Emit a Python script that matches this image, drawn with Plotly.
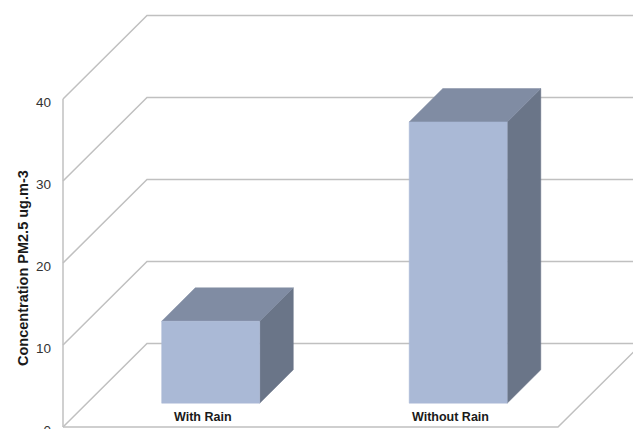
import plotly.graph_objects as go

# ---------------- data ----------------
categories = ["With Rain", "Without Rain"]
values = [10.0, 34.3]
tick_values = [0, 10, 20, 30, 40]
tick_labels = ["0", "10", "20", "30", "40"]
y_title = "Concentration PM2.5 ug.m-3"

# ---------------- style / geometry ----------------
W, H = 633, 429
PX_PER_CAT = 247.5          # horizontal pixels per category on the front plane
PX_PER_VAL = 8.2            # vertical pixels per value unit on the front plane
Y0_PX = 427                 # pixel row of value 0 on the front plane
ML = 60                     # left margin
DEPTH_DX = 84 / PX_PER_CAT  # oblique depth offset (category units)
DEPTH_DY = 83.5 / PX_PER_VAL  # oblique depth offset (value units)
X_LEFT = -0.5
X_RIGHT = len(categories) - 0.5
BAR_W = 0.396
BAR_D0, BAR_D1 = 0.285, 0.685
LABEL_DX, LABEL_V = 0.066, 1.22

GRID = "#c0c0c0"
FRONT = "#aab9d6"
TOP = "#808ca3"
SIDE = "#6a7588"

x_min = X_LEFT - (63 - ML) / PX_PER_CAT
x_max = X_LEFT + (W - 63) / PX_PER_CAT
y_min = -(H - Y0_PX) / PX_PER_VAL
y_max = Y0_PX / PX_PER_VAL

fig = go.Figure()


def line(xs, ys):
    fig.add_trace(go.Scatter(x=xs, y=ys, mode="lines",
                             line=dict(color=GRID, width=1.5),
                             hoverinfo="skip", showlegend=False))


# side wall + back wall gridlines
for v in tick_values:
    line([X_LEFT, X_LEFT + DEPTH_DX, X_RIGHT + DEPTH_DX],
         [v, v + DEPTH_DY, v + DEPTH_DY])
# front vertical edge
line([X_LEFT, X_LEFT], [0, max(tick_values)])
# floor front and right edges
line([X_LEFT, X_RIGHT, X_RIGHT + DEPTH_DX], [0, 0, DEPTH_DY])


def poly(xs, ys, color):
    fig.add_trace(go.Scatter(x=xs + [xs[0]], y=ys + [ys[0]], mode="lines",
                             fill="toself", fillcolor=color,
                             line=dict(color=color, width=0.5),
                             hoverinfo="skip", showlegend=False))


for i, (cat, v) in enumerate(zip(categories, values)):
    xl = i - BAR_W / 2
    xr = i + BAR_W / 2
    fx0, fy0 = BAR_D0 * DEPTH_DX, BAR_D0 * DEPTH_DY
    bx0, by0 = BAR_D1 * DEPTH_DX, BAR_D1 * DEPTH_DY
    # side face
    poly([xr + fx0, xr + bx0, xr + bx0, xr + fx0],
         [fy0, by0, v + by0, v + fy0], SIDE)
    # top face
    poly([xl + fx0, xr + fx0, xr + bx0, xl + bx0],
         [v + fy0, v + fy0, v + by0, v + by0], TOP)
    # front face
    poly([xl + fx0, xr + fx0, xr + fx0, xl + fx0],
         [fy0, fy0, v + fy0, v + fy0], FRONT)
    fig.add_annotation(x=i + LABEL_DX, y=LABEL_V, xref="x", yref="y",
                       text=f"<b>{cat}</b>", showarrow=False,
                       font=dict(family="Liberation Sans", size=12.5, color="#1a1a1a"),
                       xanchor="center", yanchor="middle")

fig.add_annotation(xref="paper", yref="paper", x=0, y=(H - 268) / H,
                   xshift=23 - ML, text=f"<b>{y_title}</b>", textangle=-90,
                   showarrow=False, xanchor="center", yanchor="middle",
                   font=dict(family="Liberation Sans", size=14.5, color="#1a1a1a"))

fig.update_layout(
    width=W, height=H,
    margin=dict(l=ML, r=0, t=0, b=0, autoexpand=False),
    paper_bgcolor="white", plot_bgcolor="white",
    showlegend=False,
    xaxis=dict(range=[x_min, x_max], showgrid=False, zeroline=False,
               showticklabels=False, showline=False, fixedrange=True,
               automargin=False),
    yaxis=dict(range=[y_min, y_max], showgrid=False, zeroline=False,
               showline=False, tickvals=tick_values, ticktext=tick_labels,
               ticks="", ticklabelshift=3, ticklabelstandoff=8,
               ticklabeloverflow="allow", automargin=False,
               tickfont=dict(family="Liberation Sans", size=13.5, color="#333333"),
               fixedrange=True),
)

fig.write_html("out.html")
